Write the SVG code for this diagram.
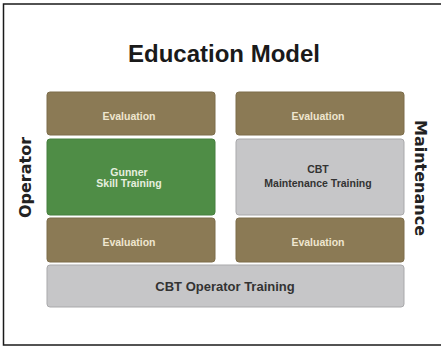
<svg xmlns="http://www.w3.org/2000/svg" width="441" height="347" viewBox="0 0 441 347">
<style>
.eval{fill:#8b7a55;stroke:#7d6d4b;stroke-width:1}
.green{fill:#4f8d46;stroke:#467e3e;stroke-width:1}
.gray{fill:#c6c6c8;stroke:#a9a9ab;stroke-width:1}
.lt{font-family:"Liberation Sans",Arial,sans-serif;font-weight:bold;font-size:10.5px;text-anchor:middle}
.onbrown{fill:#efe6cf}
.ongreen{fill:#e6efdf}
.ongray{fill:#333333}
.side{font-family:"DejaVu Sans",Verdana,sans-serif;font-weight:bold;font-size:16px;text-anchor:middle;fill:#222222}
</style>
<rect x="0" y="0" width="441" height="347" fill="#ffffff"/>
<rect x="3.5" y="4" width="450" height="341" fill="none" stroke="#1a1a1a" stroke-width="1.5"/>
<text x="224" y="62" font-family="Liberation Sans, Arial, sans-serif" font-weight="bold" font-size="24" text-anchor="middle" fill="#1a1a1a">Education Model</text>
<g id="operator-label"><text class="side" transform="translate(30.5,177.5) rotate(-90)">Operator</text></g>
<g id="maintenance-label"><text class="side" transform="translate(414.5,178) rotate(90)">Maintenance</text></g>
<g id="eval-tl"><rect class="eval" x="47" y="92" width="168" height="43" rx="3"/><text class="lt onbrown" x="129" y="119.5">Evaluation</text></g>
<g id="eval-tr"><rect class="eval" x="236" y="92" width="168" height="43" rx="3"/><text class="lt onbrown" x="318" y="119.5">Evaluation</text></g>
<g id="gunner"><rect class="green" x="47" y="139" width="168" height="76" rx="3"/><text class="lt ongreen" x="129" y="175.5">Gunner</text><text class="lt ongreen" x="129" y="187">Skill Training</text></g>
<g id="cbt-maint"><rect class="gray" x="236" y="139" width="168" height="76" rx="3"/><text class="lt ongray" x="318" y="173">CBT</text><text class="lt ongray" x="318" y="187">Maintenance Training</text></g>
<g id="eval-bl"><rect class="eval" x="47" y="218" width="168" height="44" rx="3"/><text class="lt onbrown" x="129" y="245.5">Evaluation</text></g>
<g id="eval-br"><rect class="eval" x="236" y="218" width="168" height="44" rx="3"/><text class="lt onbrown" x="318" y="245.5">Evaluation</text></g>
<g id="cbt-op"><rect class="gray" x="47" y="265" width="357" height="42" rx="3"/><text x="225" y="291" font-family="Liberation Sans, Arial, sans-serif" font-weight="bold" font-size="13" text-anchor="middle" fill="#333333">CBT Operator Training</text></g>
<g id="connectors"></g>
</svg>
